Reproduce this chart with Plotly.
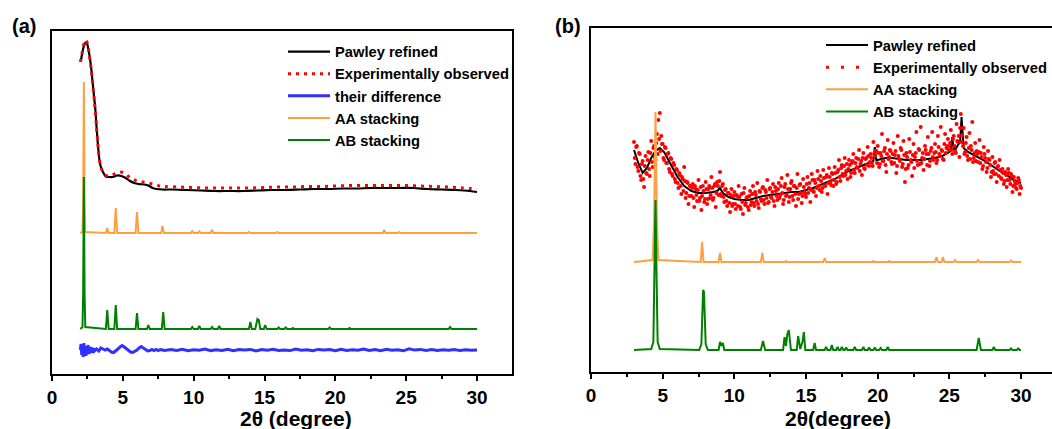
import numpy as np
import plotly.graph_objects as go

# ---------------- Panel (a) data ----------------
a_pawley_x = [2.05, 2.15, 2.25, 2.35, 2.45, 2.55, 2.65, 2.75, 2.85, 2.95, 3.05, 3.15, 3.25, 3.35, 3.45,
              3.6, 3.8, 4.0, 4.3, 4.6, 4.9, 5.2, 5.5, 5.8, 6.1, 6.5, 6.8, 7.1, 7.4, 7.8,
              8.5, 9.5, 10.5, 11.5, 12.5, 13.5, 14.5, 15.5, 16.5, 17.5, 18.5, 19.5, 20.5, 21.5,
              22.5, 23.5, 24.5, 25.5, 26.5, 27.5, 28.5, 29.5, 30.0]
a_pawley_y = [314, 322, 328, 331, 331, 326, 318, 308, 294, 280, 266, 246, 228, 214, 207,
              202, 197.5, 197, 197, 198.5, 198, 196, 193, 191, 190, 189.5, 188.5, 186, 185, 184.5,
              184.5, 184, 183.5, 183, 183, 183, 183.5, 184, 184, 184.5, 185, 185, 185.5, 185.5,
              186, 186, 186, 186, 185, 184.5, 184, 183, 182]

a_obs_x = [2.0, 2.1, 2.2, 2.3, 2.4, 2.5, 2.6, 2.7, 2.8, 2.9, 3.0, 3.1, 3.2, 3.3, 3.4, 3.5,
           3.7, 3.9, 4.2, 4.5, 4.8, 5.1, 5.4, 5.7, 6.0, 6.4, 6.8, 7.2, 7.6, 8.0,
           9, 10, 11, 12, 13, 14, 15, 16, 17, 18, 19, 20, 21, 22, 23, 24, 25, 26, 27, 28, 29, 30]
a_obs_y = [312, 319, 327, 332, 334, 330, 322, 312, 300, 286, 272, 254, 236, 220, 210, 205,
           200, 198, 198.5, 200.5, 202, 201, 197.5, 195, 193, 192, 191, 189.5, 188, 187.5,
           187, 186.5, 186, 186, 186, 186, 186.5, 187, 187, 187.5, 187.5, 188, 188.5, 188.5,
           188.5, 188.5, 188.5, 188, 187.5, 187, 186, 185]

a_diff_x = np.round(np.concatenate([np.arange(2.0, 3.001, 0.05),
                                    np.arange(3.15, 7.951, 0.15),
                                    np.arange(8.4, 30.001, 0.4)]), 2)
a_diff_y = [24, 30, 19, 29, 17, 31, 21, 28, 18, 27, 22, 29, 20, 26, 21, 27, 22, 25, 21, 26, 23,
            25, 23, 26, 25, 24, 25, 23, 22, 21.5, 23, 25, 27, 28.5, 27, 25, 23, 22, 21.5, 22.5,
            24, 26, 27.5, 26, 24, 23, 23.5, 24.5, 23.5, 24.5, 23.5, 24.5, 24, 23.5,
            24.5, 23.5, 24.8, 23.2, 24.3, 23.8, 24.9, 23.4, 24.2, 23.6,
            24.7, 23.3, 24.4, 23.9, 24.6, 23.1, 24.5, 23.7, 24.8, 23.5,
            24.1, 23.4, 24.9, 23.8, 24.3, 23.2, 24.6, 23.9, 24.4, 23.3,
            24.7, 23.6, 24.2, 23.8, 25.0, 23.5, 24.5, 23.4, 24.8, 23.7,
            24.3, 23.2, 25.1, 23.9, 24.6, 23.5, 24.4, 23.6, 24.2, 23.8,
            24.5, 23.4, 24.3, 23.7, 24.0]

a_aa_x = [2.0, 2.15, 2.2, 2.25, 2.3, 2.35, 3.8, 3.9, 4.0, 4.4, 4.5, 4.6, 5.9, 6.0, 6.1,
          7.7, 7.8, 7.9, 9.8, 9.9, 10.0, 10.3, 10.4, 10.5, 11.2, 11.3, 11.4, 13.8, 13.9, 14.0,
          15.8, 15.9, 16.0, 23.35, 23.45, 23.55, 24.4, 24.5, 24.6, 30.0]
a_aa_y = [141, 142, 170, 292, 170, 142, 141, 146, 141, 141, 166, 141, 141, 162, 141,
          141, 148, 141, 141, 143, 141, 141, 142.5, 141, 141, 144, 141, 141, 142, 141,
          141, 142, 141, 141, 144, 141, 141, 142, 141, 141]

a_ab_x = [2.0, 2.15, 2.2, 2.25, 2.3, 2.35, 3.8, 3.9, 4.0, 4.4, 4.5, 4.6, 5.9, 6.0, 6.1,
          6.7, 6.8, 6.9, 7.75, 7.85, 7.95, 9.8, 9.9, 10.0, 10.3, 10.4, 10.5, 11.2, 11.3, 11.4,
          11.7, 11.8, 11.9, 13.9, 14.0, 14.1, 14.35, 14.5, 14.6, 14.7, 14.95, 15.05, 15.15,
          15.9, 16.0, 16.1, 16.4, 16.5, 16.6, 16.9, 17.0, 17.1, 19.5, 19.6, 19.7,
          20.9, 21.0, 21.1, 28.0, 28.1, 28.2, 30.0]
a_ab_y = [45, 47, 80, 197, 80, 47, 45, 64, 45, 45, 69, 45, 45, 61, 45,
          45, 49, 45, 45, 62, 45, 45, 47, 45, 45, 48, 45, 45, 47, 45,
          45, 48, 45, 45, 52, 45, 45, 55, 54, 45, 45, 49, 45,
          45, 46.5, 45, 45, 46.5, 45, 45, 46, 45, 45, 46.5, 45,
          45, 46, 45, 45, 47, 45, 45]

# ---------------- Panel (b) data ----------------
b_pawley_x = [3.0, 3.3, 3.6, 3.9, 4.2, 4.5, 4.8, 5.1, 5.4, 5.7, 6.0, 6.5, 7.0, 7.5, 8.0, 8.5,
              8.8, 9.0, 9.2, 9.6, 10.0, 10.5, 11.0, 11.5, 12.0, 12.5, 13.0, 13.5, 14.0, 14.5,
              15.0, 15.5, 16.0, 16.5, 17.0, 17.5, 18.0, 18.5, 19.0, 19.5, 19.7, 19.8, 19.9,
              20.0, 20.5, 21.0, 21.5, 22.0, 22.5, 23.0, 23.5, 24.0, 24.5, 25.0,
              25.1, 25.2, 25.3, 25.4, 25.6, 25.75, 25.85, 25.95, 26.0, 26.3, 26.7, 27.0,
              27.5, 28.0, 28.5, 29.0, 29.5, 30.0]
b_pawley_y = [222, 209, 199, 204, 214, 221, 224, 220, 212, 204, 196, 186, 181, 179, 179, 180,
              181, 184, 179, 175, 173, 172, 172, 174, 176, 177, 178, 179, 180, 180,
              182, 184, 187, 190, 193, 197, 201, 204, 207, 210, 211, 225, 212,
              212, 214, 214, 213, 212, 212, 212, 213, 214, 216, 220,
              222, 235, 223, 222, 227, 230, 255, 232, 224, 220, 217, 215,
              211, 206, 201, 197, 192, 189]

b_obs_x1 = np.round(np.arange(3.0, 30.001, 0.1), 2)
b_obs_y1 = [230, 208, 226, 201, 218, 192, 211, 185, 216, 198,
            220, 196, 231, 205, 226, 212, 238, 252, 259, 236,
            228, 212, 224, 209, 219, 200, 213, 196, 207, 190,
            202, 184, 197, 178, 193, 205, 174, 190, 168, 186,
            176, 188, 165, 183, 171, 192, 174, 162, 186, 170,
            190, 168, 183, 174, 195, 172, 186, 165, 190, 177,
            200, 176, 188, 170, 183, 166, 179, 160, 183, 168,
            180, 163, 176, 186, 165, 178, 158, 184, 169, 175,
            162, 181, 170, 186, 166, 177, 189, 164, 180, 171,
            185, 168, 180, 192, 170, 184, 174, 188, 166, 181,
            172, 189, 177, 194, 168, 185, 176, 197, 170, 183,
            191, 172, 186, 166, 198, 178, 188, 169, 193, 180,
            175, 195, 184, 170, 198, 181, 192, 176, 201, 186,
            196, 180, 202, 187, 195, 178, 204, 190, 199, 186,
            205, 188, 200, 212, 191, 207, 196, 214, 201, 193,
            212, 195, 209, 218, 199, 214, 204, 222, 208, 197,
            219, 203, 214, 225, 206, 218, 209, 230, 216, 221,
            226, 205, 219, 238, 211, 224, 200, 232, 215, 221,
            208, 229, 217, 199, 236, 213, 224, 205, 231, 190,
            219, 204, 233, 212, 196, 228, 215, 240, 207, 222,
            245, 214, 202, 226, 218, 235, 206, 221, 240, 212,
            228, 209, 236, 218, 245, 221, 212, 238, 224, 233,
            226, 242, 218, 236, 221, 248, 230, 215, 258, 237,
            244, 220, 235, 212, 239, 226, 250, 214, 229, 221,
            210, 232, 219, 203, 225, 214, 200, 221, 212, 195,
            215, 198, 210, 190, 206, 212, 194, 203, 188, 200,
            185, 203, 192, 198, 180, 195, 188, 183, 194, 178,
            184]

b_obs_x2 = np.round(np.arange(3.05, 29.951, 0.1), 2)
b_obs_y2 = [214, 225, 205, 219, 196, 208, 193, 206, 199, 212,
            203, 219, 210, 224, 215, 229, 218, 233, 221, 228,
            214, 225, 209, 218, 203, 214, 198, 209, 193, 203,
            189, 199, 186, 195, 181, 191, 179, 189, 176, 186,
            184, 174, 186, 177, 182, 171, 185, 176, 181, 173,
            183, 173, 186, 177, 184, 174, 188, 179, 186, 191,
            178, 186, 175, 182, 171, 179, 169, 177, 166, 176,
            168, 177, 166, 175, 163, 170, 179, 167, 174, 165,
            176, 167, 178, 169, 180, 171, 168, 181, 173, 184,
            172, 182, 174, 169, 183, 175, 180, 171, 185, 176,
            183, 174, 186, 179, 172, 188, 177, 183, 175, 189,
            176, 186, 178, 184, 173, 187, 179, 176, 185, 178,
            188, 179, 189, 182, 192, 180, 189, 184, 193, 182,
            191, 184, 194, 186, 197, 189, 195, 187, 198, 192,
            199, 190, 202, 195, 204, 198, 206, 197, 208, 203,
            207, 199, 211, 202, 209, 205, 213, 201, 211, 214,
            204, 213, 207, 216, 210, 214, 206, 218, 221, 209,
            219, 208, 216, 211, 221, 207, 218, 213, 222, 210,
            218, 209, 221, 206, 216, 211, 222, 208, 217, 203,
            215, 207, 220, 210, 217, 204, 219, 211, 223, 208,
            209, 219, 213, 222, 207, 218, 211, 224, 215, 219,
            220, 212, 225, 216, 222, 213, 228, 219, 226, 222,
            229, 222, 233, 226, 219, 231, 236, 244, 230, 226,
            218, 229, 216, 224, 213, 222, 210, 219, 211, 218,
            220, 209, 215, 206, 218, 210, 204, 213, 207, 200,
            201, 209, 198, 205, 196, 202, 193, 199, 191, 197,
            192, 199, 188, 196, 186, 191, 184, 189, 192, 186]

b_aa_x = [3.0, 4.3, 4.4, 4.5, 4.6, 4.7, 7.65, 7.75, 7.85, 8.9, 9.0, 9.1, 11.85, 11.95, 12.05,
          13.5, 13.6, 13.7, 16.2, 16.3, 16.4, 19.6, 19.7, 19.8, 20.7, 20.8, 20.9,
          24.0, 24.1, 24.2, 24.45, 24.55, 24.65, 25.3, 25.4, 25.5, 26.9, 27.0, 27.1,
          29.2, 29.3, 29.4, 30.0]
b_aa_y = [110, 112, 150, 260, 150, 112, 110, 130, 110, 110, 119, 110, 110, 119, 110,
          110, 111, 110, 110, 114, 110, 110, 111, 110, 110, 111, 110,
          110, 115, 110, 110, 115, 110, 110, 112, 110, 110, 112, 110,
          110, 111.5, 110, 110]

b_ab_x = [3.0, 4.2, 4.35, 4.42, 4.5, 4.58, 4.65, 4.8, 7.55, 7.7, 7.76, 7.82, 7.88, 7.94, 8.0, 8.15,
          8.9, 9.0, 9.1, 9.2, 9.3, 11.85, 12.0, 12.15, 13.4, 13.5, 13.6, 13.7, 13.8, 13.95,
          14.35, 14.45, 14.6, 14.75, 14.85, 14.95, 15.5, 15.6, 15.7, 16.3, 16.4, 16.5,
          16.7, 16.8, 16.9, 17.1, 17.2, 17.3, 17.4, 17.5, 17.6, 17.7, 17.8, 17.9,
          18.3, 18.4, 18.5, 18.9, 19.0, 19.1, 19.3, 19.4, 19.5, 19.7, 19.8, 19.9,
          20.1, 20.2, 20.3, 20.6, 20.7, 20.8, 26.9, 27.05, 27.2, 28.0, 28.1, 28.2,
          29.2, 29.3, 29.4, 29.7, 29.8, 29.9, 30.0]
b_ab_y = [22, 23, 30, 90, 172, 90, 30, 23, 22, 28, 60, 82, 80, 60, 28, 22,
          22, 30, 27, 29, 22, 22, 31, 22, 22, 35, 26, 38, 42, 22,
          22, 36, 23, 30, 40, 22, 22, 29, 22, 22, 25, 22,
          22, 27, 22, 22, 25, 22, 22, 25, 22, 22, 24.5, 22,
          22, 25, 22, 22, 25, 22, 22, 24.5, 22, 22, 24.5, 22,
          22, 24, 22, 22, 25, 22, 22, 34, 22, 22, 25, 22,
          22, 23.5, 22, 22, 23.5, 22, 22]

x_title_a = "2θ (degree)"
x_title_b = "2θ(degree)"

# ---------------- styling ----------------
W, H = 1052, 429
FONT = "Arial, 'Liberation Sans', sans-serif"
BLACK, RED, BLUE, ORANGE, GREEN = "#000000", "#ff0000", "#3030ff", "#ffa040", "#008000"

fig = go.Figure()

# Panel (a)
fig.add_trace(go.Scatter(x=a_pawley_x, y=a_pawley_y, mode="lines", name="Pawley refined",
                         line=dict(color=BLACK, width=2.2, shape="spline"), xaxis="x", yaxis="y", legend="legend"))
fig.add_trace(go.Scatter(x=a_obs_x, y=a_obs_y, mode="lines", name="Experimentally observed",
                         line=dict(color=RED, width=3, dash="3px,5px", shape="spline"), xaxis="x", yaxis="y", legend="legend"))
fig.add_trace(go.Scatter(x=a_diff_x, y=a_diff_y, mode="lines", name="their difference",
                         line=dict(color=BLUE, width=3), xaxis="x", yaxis="y", legend="legend"))
fig.add_trace(go.Scatter(x=a_aa_x, y=a_aa_y, mode="lines", name="AA stacking",
                         line=dict(color=ORANGE, width=2), xaxis="x", yaxis="y", legend="legend"))
fig.add_trace(go.Scatter(x=a_ab_x, y=a_ab_y, mode="lines", name="AB stacking",
                         line=dict(color=GREEN, width=2), xaxis="x", yaxis="y", legend="legend"))

# Panel (b)
fig.add_trace(go.Scatter(x=b_pawley_x, y=b_pawley_y, mode="lines", name="Pawley refined",
                         line=dict(color=BLACK, width=2), xaxis="x2", yaxis="y2", legend="legend2"))
fig.add_trace(go.Scatter(x=np.concatenate([b_obs_x1, b_obs_x2]), y=b_obs_y1 + b_obs_y2, mode="markers",
                         name="Experimentally observed", marker=dict(color=RED, size=4),
                         showlegend=False, xaxis="x2", yaxis="y2", legend="legend2"))
fig.add_trace(go.Scatter(x=[None], y=[None], mode="lines", name="Experimentally observed",
                         line=dict(color=RED, width=3, dash="3px,12px"), xaxis="x2", yaxis="y2", legend="legend2"))
fig.add_trace(go.Scatter(x=b_aa_x, y=b_aa_y, mode="lines", name="AA stacking",
                         line=dict(color=ORANGE, width=2), xaxis="x2", yaxis="y2", legend="legend2"))
fig.add_trace(go.Scatter(x=b_ab_x, y=b_ab_y, mode="lines", name="AB stacking",
                         line=dict(color=GREEN, width=2), xaxis="x2", yaxis="y2", legend="legend2"))

tickfont = dict(family=FONT, size=19, color="black", weight="bold")
titlefont = dict(family=FONT, size=21, color="black", weight="bold")


def xaxis(domain, rng):
    return dict(domain=domain, range=rng, showline=True, linecolor="black", linewidth=2, mirror=True,
                ticks="outside", ticklen=5, tickwidth=2, tickcolor="black", tick0=0, dtick=5,
                minor=dict(ticks="outside", dtick=2.5, ticklen=3, tickwidth=1.5, tickcolor="black"),
                showgrid=False, zeroline=False, tickfont=tickfont, automargin=False)


def yaxis(domain, rng, anchor, mirror):
    return dict(domain=domain, range=rng, showline=True, linecolor="black", linewidth=2, mirror=mirror,
                ticks="", showticklabels=False, showgrid=False, zeroline=False, anchor=anchor,
                automargin=False)


legend_font = dict(family=FONT, size=14.7, color="black", weight="bold")

fig.update_layout(
    width=W, height=H, margin=dict(l=0, r=0, t=0, b=0),
    paper_bgcolor="white", plot_bgcolor="white",
    xaxis=dict(**xaxis([52 / W, 512 / W], [0, 32.47]), anchor="y"),
    yaxis=yaxis([55 / H, 398 / H], [0, 343], "x", True),
    xaxis2=dict(**xaxis([591 / W, 1.0], [0, 32.16]), anchor="y2"),
    yaxis2=yaxis([57 / H, 401 / H], [0, 344], "x2", False),
    legend=dict(x=283 / W, y=1 - 35.5 / H, xanchor="left", yanchor="top", bgcolor="rgba(0,0,0,0)",
                font=legend_font, itemwidth=42, tracegroupgap=0),
    legend2=dict(x=821 / W, y=1 - 29 / H, xanchor="left", yanchor="top", bgcolor="rgba(0,0,0,0)",
                 font=legend_font, itemwidth=42, tracegroupgap=0),
    annotations=[
        dict(text="<b>(a)</b>", x=24 / W, y=1 - 26 / H, xref="paper", yref="paper", showarrow=False,
             font=dict(family=FONT, size=20, color="black"), xanchor="center", yanchor="middle"),
        dict(text="<b>(b)</b>", x=568 / W, y=1 - 26 / H, xref="paper", yref="paper", showarrow=False,
             font=dict(family=FONT, size=20, color="black"), xanchor="center", yanchor="middle"),
        dict(text=x_title_a, x=296 / W, y=1 - 418 / H, xref="paper", yref="paper", showarrow=False,
             font=titlefont, xanchor="center", yanchor="middle"),
        dict(text=x_title_b, x=838 / W, y=1 - 418 / H, xref="paper", yref="paper", showarrow=False,
             font=titlefont, xanchor="center", yanchor="middle"),
    ],
)

fig.write_html("out.html")
